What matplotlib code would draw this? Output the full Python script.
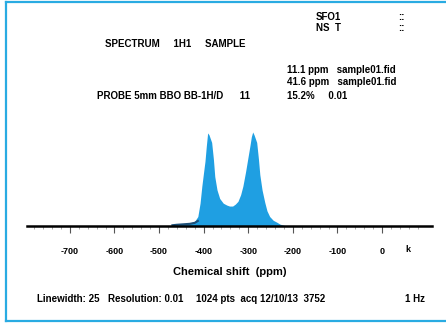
import numpy as np
import matplotlib.pyplot as plt
from matplotlib.lines import Line2D

# spectrum (offset, intensity)
offset = [-470, -460, -445, -431, -420, -413, -408, -404, -400, -397, -394, -391,
          -388, -385, -382, -378, -375, -370, -364, -356, -348, -342, -335, -329,
          -323, -317, -312, -306, -301, -296, -293, -290, -287, -284, -281, -277,
          -274, -269, -263, -258, -252, -244, -236, -229, -222, -215]
intensity = [0, 1, 2, 3, 5, 10, 24, 42, 57, 68, 84, 98,
             96, 92, 88, 70, 52, 38, 29, 24, 22, 21, 21, 23,
             26, 33, 42, 57, 71, 85, 94, 99, 96, 92, 88, 70,
             54, 38, 25, 16, 10, 6, 4, 2, 1, 0]
tail_x = [-470, -460, -445, -431, -420, -413]
tail_y = [0, 1, 2, 3, 5, 9]

tick_vals = [-700, -600, -500, -400, -300, -200, -100, 0]
tick_labels = ['-700', '-600', '-500', '-400', '-300', '-200', '-100', '0']

blue = '#1f9fe2'
frame = '#29abe2'

plt.rcParams['font.family'] = ['Liberation Sans', 'DejaVu Sans']

fig = plt.figure(figsize=(4.46, 3.23), dpi=100)
W, H = 446.0, 323.0

# frame around the panel
fig.add_artist(Line2D([6 / W, 6 / W], [1 - 2 / H, 1 - 321 / H], color=frame, lw=1.6))
fig.add_artist(Line2D([6 / W, 1.0], [1 - 2 / H, 1 - 2 / H], color=frame, lw=1.6))
fig.add_artist(Line2D([6 / W, 1.0], [1 - 321 / H, 1 - 321 / H], color=frame, lw=1.6))

ax = fig.add_axes([27 / W, 1 - 226 / H, (432 - 27) / W, 106 / H])
ax.fill_between(offset, intensity, 0, color=blue, lw=0)
ax.plot(tail_x, [v * 0.5 + 0.8 for v in tail_y], color='#1c4f78', lw=1.5)
ax.set_xlim(-796, 112)
ax.set_ylim(0, 111.6)
for s in ['left', 'right', 'top']:
    ax.spines[s].set_visible(False)
ax.spines['bottom'].set_linewidth(1.8)
ax.set_yticks([])
ax.set_xticks(tick_vals)
ax.set_xticklabels(tick_labels, fontsize=6.5, fontweight='bold')
ax.set_xticks(np.arange(-780, 100, 20), minor=True)
ax.tick_params(axis='x', which='major', length=5, width=0.8, color='#555555', pad=10)
ax.tick_params(axis='x', which='minor', length=2, width=0.6, color='#999999')
ax.patch.set_alpha(0)

def t(x, y, s, size=7, **kw):
    fig.text(x / W, 1 - y / H, s, fontsize=size, fontweight='bold', va='center', **kw)

t(408, 249, 'k', size=6.5, ha='center')
t(230, 272, 'Chemical shift  (ppm)', size=8, ha='center')
t(37, 299, 'Linewidth: 25', ha='left')
t(108, 299, 'Resolution: 0.01', ha='left')
t(196, 299, '1024 pts  acq 12/10/13  3752', ha='left')
t(405, 299, '1 Hz', ha='left')

t(316, 17, 'SFO1', ha='left')
t(316, 28, 'NS  T', ha='left')
t(398, 17, '::', ha='left')
t(398, 28, '::', ha='left')

t(105, 44, 'SPECTRUM     1H1     SAMPLE', ha='left')

t(287, 70, '11.1 ppm   sample01.fid', ha='left')
t(287, 82, '41.6 ppm   sample01.fid', ha='left')
t(287, 96, '15.2%     0.01', ha='left')
t(97, 96, 'PROBE 5mm BBO BB-1H/D      11', ha='left')

fig.savefig('out.png', dpi=100)
